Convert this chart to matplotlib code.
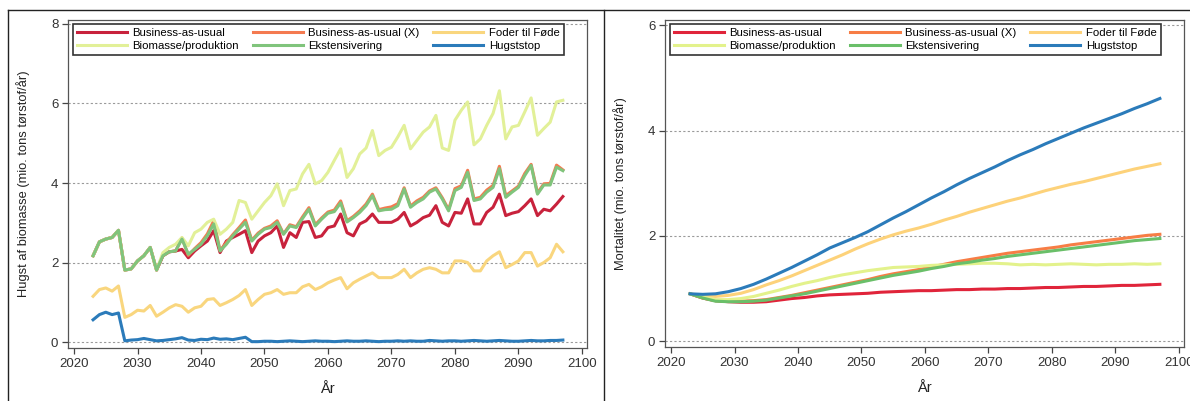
import numpy as np
import matplotlib
matplotlib.use("Agg")
import matplotlib.pyplot as plt
from matplotlib.lines import Line2D

plt.rcParams['font.family'] = ['Liberation Sans', 'DejaVu Sans']

# ---------------- data: left panel (annual, 2023-2097) ----------------
years_left = np.arange(2023, 2098)

bau_left = [2.17, 2.52, 2.59, 2.63, 2.81, 1.81, 1.84, 2.04, 2.17, 2.38,
            1.81, 2.17, 2.27, 2.29,
            2.33, 2.12, 2.29, 2.42, 2.54, 2.80, 2.25, 2.54, 2.63, 2.71,
            2.80, 2.25, 2.54, 2.67, 2.75, 2.92, 2.38, 2.75, 2.63, 3.01,
            3.03, 2.63, 2.67, 2.88, 2.92, 3.22, 2.75, 2.67, 2.97, 3.05,
            3.22, 3.01, 3.01, 3.01, 3.09, 3.26, 2.92, 3.01, 3.13, 3.19,
            3.43, 3.01, 2.92, 3.26, 3.24, 3.60, 2.97, 2.97, 3.26, 3.39,
            3.72, 3.18, 3.24, 3.28, 3.43, 3.60, 3.18, 3.34, 3.30, 3.47,
            3.66]

baux_left = [2.17, 2.52, 2.59, 2.63, 2.81, 1.81, 1.84, 2.04, 2.17, 2.38,
             1.81, 2.17, 2.27, 2.29,
             2.62, 2.18, 2.35, 2.50, 2.72, 3.05, 2.30, 2.50, 2.70, 2.88,
             3.07, 2.56, 2.74, 2.86, 2.92, 3.05, 2.72, 2.95, 2.90, 3.15,
             3.38, 2.95, 3.12, 3.27, 3.32, 3.55, 3.05, 3.16, 3.30, 3.47,
             3.72, 3.33, 3.37, 3.40, 3.48, 3.88, 3.42, 3.55, 3.64, 3.80,
             3.88, 3.63, 3.33, 3.86, 3.93, 4.32, 3.60, 3.64, 3.82, 3.94,
             4.42, 3.68, 3.80, 3.92, 4.24, 4.47, 3.75, 3.98, 3.99, 4.45,
             4.33]

foder_left = [1.15, 1.32, 1.36, 1.28, 1.41, 0.62, 0.69, 0.80, 0.78, 0.92,
              0.65, 0.75, 0.86, 0.94, 0.90, 0.75, 0.86, 0.90, 1.07, 1.09,
              0.92, 0.99, 1.07, 1.17, 1.32, 0.92, 1.07, 1.20, 1.24, 1.32,
              1.20, 1.24, 1.24, 1.39, 1.45, 1.32, 1.39, 1.49, 1.56, 1.62,
              1.34, 1.49, 1.58, 1.66, 1.74, 1.62, 1.62, 1.62, 1.70, 1.83,
              1.62, 1.74, 1.83, 1.87, 1.83, 1.74, 1.74, 2.04, 2.04, 2.00,
              1.79, 1.79, 2.04, 2.17, 2.27, 1.87, 1.95, 2.04, 2.25, 2.25,
              1.91, 2.00, 2.12, 2.46, 2.27]

biomasse_left = [2.17, 2.52, 2.59, 2.63, 2.81, 1.81, 1.84, 2.04, 2.17, 2.38,
                 1.81,
                 2.25, 2.38, 2.46, 2.63, 2.42, 2.75, 2.84, 3.01, 3.09, 2.71,
                 2.84, 3.01, 3.56, 3.51, 3.09, 3.30, 3.51, 3.68, 3.98, 3.43,
                 3.81, 3.85, 4.23, 4.47, 3.98, 4.06, 4.27, 4.57, 4.86, 4.14,
                 4.36, 4.73, 4.88, 5.32, 4.69, 4.82, 4.90, 5.16, 5.45, 4.86,
                 5.07, 5.28, 5.41, 5.70, 4.88, 4.82, 5.58, 5.83, 6.04, 4.96,
                 5.11, 5.45, 5.75, 6.32, 5.11, 5.41, 5.45, 5.79, 6.14, 5.20,
                 5.37, 5.53, 6.04, 6.08]

ekst_left = [2.17, 2.52, 2.59, 2.63, 2.81, 1.81, 1.84, 2.04, 2.17, 2.38,
             1.81, 2.17, 2.27, 2.29, 2.59, 2.21, 2.33, 2.46, 2.67, 2.97,
             2.29, 2.46, 2.67, 2.84, 3.01, 2.54, 2.71, 2.84, 2.88, 3.01,
             2.71, 2.92, 2.88, 3.11, 3.34, 2.92, 3.09, 3.24, 3.28, 3.50,
             3.02, 3.13, 3.26, 3.43, 3.68, 3.30, 3.33, 3.34, 3.43, 3.85,
             3.39, 3.51, 3.60, 3.77, 3.85, 3.60, 3.30, 3.81, 3.89, 4.27,
             3.56, 3.60, 3.77, 3.89, 4.36, 3.64, 3.77, 3.89, 4.19, 4.44,
             3.72, 3.95, 3.95, 4.40, 4.31]

hugst_left = [0.56, 0.69, 0.75, 0.69, 0.73,
              0.03, 0.05, 0.06, 0.09, 0.06, 0.03, 0.04, 0.06, 0.08, 0.11,
              0.05, 0.04, 0.07, 0.06, 0.10, 0.07, 0.08, 0.06, 0.09, 0.12,
              0.01, 0.01, 0.02, 0.02, 0.01, 0.02, 0.03, 0.02, 0.01, 0.02,
              0.03, 0.02, 0.02, 0.01, 0.02, 0.03, 0.02, 0.02, 0.03, 0.02,
              0.01, 0.02, 0.02, 0.03, 0.02, 0.03, 0.02, 0.02, 0.04, 0.03,
              0.02, 0.03, 0.03, 0.02, 0.03, 0.04, 0.03, 0.02, 0.03, 0.04,
              0.03, 0.02, 0.02, 0.03, 0.04, 0.03, 0.03, 0.04, 0.04, 0.05]

# ---------------- data: right panel (every 2nd year, 2023-2097) ----------------
years_right = np.arange(2023, 2098, 2)

bau_right = [0.90, 0.82, 0.77, 0.75, 0.74, 0.74, 0.75, 0.78, 0.81, 0.83,
             0.86, 0.88, 0.89, 0.90, 0.91, 0.93, 0.94, 0.95, 0.96, 0.96,
             0.97, 0.98, 0.98, 0.99, 0.99, 1.00, 1.00, 1.01, 1.02, 1.02,
             1.03, 1.04, 1.04, 1.05, 1.06, 1.06, 1.07, 1.08]
baux_right = [0.90, 0.82, 0.77, 0.76, 0.76, 0.77, 0.79, 0.83, 0.87, 0.92,
              0.97, 1.02, 1.07, 1.12, 1.17, 1.23, 1.28, 1.32, 1.36, 1.41,
              1.46, 1.51, 1.55, 1.59, 1.63, 1.67, 1.70, 1.73, 1.76, 1.79,
              1.83, 1.86, 1.89, 1.92, 1.95, 1.98, 2.01, 2.03]
foder_right = [0.90, 0.86, 0.85, 0.87, 0.91, 0.98, 1.07, 1.15, 1.24, 1.34,
               1.44, 1.54, 1.64, 1.75, 1.85, 1.94, 2.02, 2.09, 2.15, 2.22,
               2.30, 2.37, 2.45, 2.52, 2.59, 2.66, 2.72, 2.79, 2.86, 2.92,
               2.98, 3.03, 3.09, 3.15, 3.21, 3.27, 3.32, 3.37]
biomasse_right = [0.90, 0.84, 0.79, 0.79, 0.81, 0.85, 0.91, 0.97, 1.04, 1.10,
                  1.15, 1.21, 1.26, 1.30, 1.34, 1.37, 1.40, 1.41, 1.42, 1.44,
                  1.45, 1.46, 1.47, 1.48, 1.48, 1.47, 1.45, 1.46, 1.45, 1.46,
                  1.47, 1.46, 1.45, 1.46, 1.46, 1.47, 1.46, 1.47]
ekst_right = [0.90, 0.82, 0.76, 0.75, 0.75, 0.76, 0.78, 0.82, 0.86, 0.90,
              0.95, 1.00, 1.05, 1.10, 1.15, 1.20, 1.25, 1.29, 1.33, 1.38,
              1.42, 1.47, 1.50, 1.54, 1.57, 1.61, 1.64, 1.67, 1.70, 1.73,
              1.76, 1.79, 1.82, 1.85, 1.88, 1.91, 1.93, 1.95]
hugst_right = [0.90, 0.89, 0.90, 0.94, 1.00, 1.08, 1.18, 1.29, 1.40, 1.52,
               1.64, 1.77, 1.87, 1.97, 2.08, 2.21, 2.34, 2.46, 2.59, 2.72,
               2.84, 2.97, 3.09, 3.20, 3.31, 3.43, 3.54, 3.64, 3.75, 3.85,
               3.95, 4.05, 4.14, 4.23, 4.32, 4.42, 4.51, 4.61]

labels = ["Business-as-usual", "Business-as-usual (X)", "Foder til Føde",
          "Biomasse/produktion", "Ekstensivering", "Hugststop"]
colors_left = ["#c8223c", "#f47a50", "#f9d67e", "#e2f098", "#80c47c", "#2b7bba"]
colors_right = ["#e0243a", "#f77d45", "#fdd27a", "#e3f28c", "#6abf69", "#2b7bba"]

x_ticks = [2020, 2030, 2040, 2050, 2060, 2070, 2080, 2090, 2100]
y_ticks_left = [0, 2, 4, 6, 8]
y_ticks_right = [0, 2, 4, 6]

fig = plt.figure(figsize=(11.9, 4.01), dpi=100)

# outer frame lines
W, H = 1190.0, 401.0
fig.add_artist(Line2D([8 / W, 1.0], [1 - 10 / H, 1 - 10 / H], color="#222222", lw=1.0))
fig.add_artist(Line2D([8 / W, 8 / W], [0, 1 - 10 / H], color="#222222", lw=1.0))
fig.add_artist(Line2D([604 / W, 604 / W], [0, 1 - 10 / H], color="#222222", lw=1.0))

axL = fig.add_axes([68 / W, 1 - 348 / H, 519 / W, 328 / H])
axR = fig.add_axes([665 / W, 1 - 347 / H, 519 / W, 327 / H])


def style(ax, yticks, ylim, ylabel):
    ax.set_xlim(2019.05, 2100.8)
    ax.set_ylim(*ylim)
    ax.set_xticks(x_ticks)
    ax.set_yticks(yticks)
    ax.tick_params(axis="both", direction="out", length=4, width=0.9,
                   color="#444444", labelsize=9.5, labelcolor="#333333", pad=3)
    for s in ax.spines.values():
        s.set_color("#555555")
        s.set_linewidth(0.9)
    ax.set_axisbelow(True)
    ax.yaxis.grid(True, color="#9a9a9a", linestyle=(0, (2, 2)), linewidth=0.8)
    ax.set_xlabel("År", fontsize=10.5, color="#222222")
    ax.set_ylabel(ylabel, fontsize=9.3, color="#222222")
    ax.xaxis.set_label_coords(0.5, -0.105)
    ax.yaxis.set_label_coords(-0.073, 0.5)


left_series = [bau_left, baux_left, foder_left, biomasse_left, ekst_left, hugst_left]
for vals, lab, col in zip(left_series, labels, colors_left):
    axL.plot(years_left, vals, color=col, lw=2.2, label=lab, solid_joinstyle="round")

right_series = [bau_right, baux_right, foder_right, biomasse_right, ekst_right, hugst_right]
for vals, lab, col in zip(right_series, labels, colors_right):
    axR.plot(years_right, vals, color=col, lw=2.2, label=lab, solid_joinstyle="round")

style(axL, y_ticks_left, (-0.15, 8.1), "Hugst af biomasse (mio. tons tørstof/år)")
style(axR, y_ticks_right, (-0.11, 6.1), "Mortalitet (mio. tons tørstof/år)")

# legend rows: BAU, BAU(X), Foder / Biomasse, Ekst, Hugststop (row-major)
order = [0, 3, 1, 4, 2, 5]
for ax in (axL, axR):
    h, l = ax.get_legend_handles_labels()
    leg = ax.legend([h[i] for i in order], [l[i] for i in order],
                    loc="upper left", bbox_to_anchor=(0.009, 0.988), ncol=3,
                    fontsize=8.2, frameon=True, fancybox=False, borderaxespad=0,
                    handlelength=4.4, handletextpad=0.5, columnspacing=1.2,
                    labelspacing=0.28, borderpad=0.35)
    fr = leg.get_frame()
    fr.set_edgecolor("#333333")
    fr.set_linewidth(1.2)
    fr.set_facecolor("white")
    fr.set_alpha(1)

fig.savefig("out.png", dpi=100)
